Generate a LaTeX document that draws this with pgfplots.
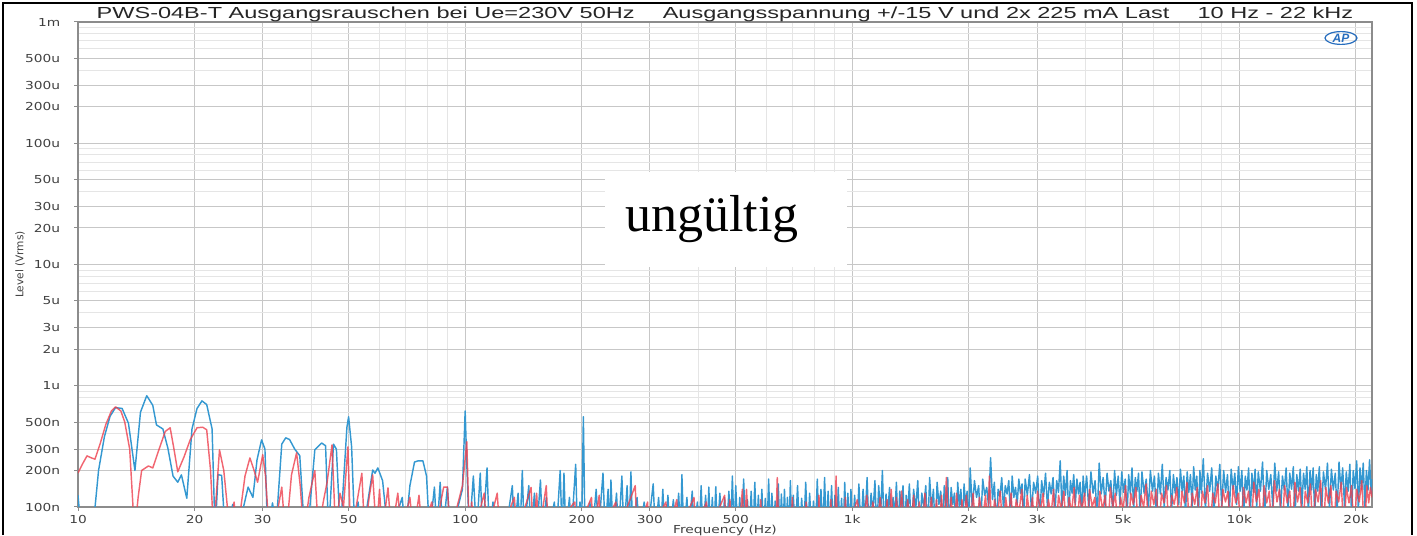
\documentclass[border=0pt]{standalone}
\usepackage{pgfplots}
\pgfplotsset{compat=1.18}
\usepackage{fontspec}
\setmainfont{Liberation Sans}
\newfontfamily\dejavu{DejaVu Sans}
\newfontfamily\serifb{Liberation Serif}
\definecolor{apblue}{RGB}{52,152,209}
\definecolor{apred}{RGB}{238,64,78}
\definecolor{lbl}{RGB}{64,64,64}
\definecolor{logo}{RGB}{40,110,190}
\begin{document}
\begin{tikzpicture}
\begin{axis}[
  at={(0,0)}, anchor=south west,
  scale only axis, width=647pt, height=242.5pt,
  xmode=log, ymode=log,
  xmin=10, xmax=22000, ymin=100, ymax=1000000,
  xtick={10,20,30,50,100,200,300,500,1000,2000,3000,5000,10000,20000},
  xticklabels={10,20,30,50,100,200,300,500,1k,2k,3k,5k,10k,20k},
  minor xtick={40,60,70,80,90,400,600,700,800,900,4000,6000,7000,8000,9000},
  ytick={100,200,300,500,1000,2000,3000,5000,10000,20000,30000,50000,100000,200000,300000,500000,1000000},
  yticklabels={100n,200n,300n,500n,1u,2u,3u,5u,10u,20u,30u,50u,100u,200u,300u,500u,1m},
  minor ytick={400,600,700,800,900,4000,6000,7000,8000,9000,40000,60000,70000,80000,90000,400000,600000,700000,800000,900000},
  grid=both,
  major grid style={draw=black!22, line width=0.5pt},
  minor grid style={draw=black!10, line width=0.5pt},
  axis line style={draw=black!45, line width=0.6pt},
  tick align=outside, major tick length=2pt, minor tick length=0pt,
  tick pos=left,
  tick style={draw=black!45, line width=0.5pt},
  tick label style={font=\dejavu\fontsize{5.5}{6.5}\selectfont, text=lbl},
  xticklabel style={xscale=1.25, yshift=1.5pt},
  yticklabel style={xscale=1.25, xshift=-2pt},
  title={PWS-04B-T Ausgangsrauschen bei Ue=230V 50Hz\hspace{1.2em}Ausgangsspannung +/-15 V und 2x 225 mA Last\hspace{1.2em}10 Hz - 22 kHz},
  title style={font=\fontsize{8}{9}\selectfont, text=black!85, xscale=1.47, at={(axis description cs:0.5,1)}, anchor=base, yshift=-4.5pt},
  xlabel={Frequency (Hz)},
  xlabel style={font=\dejavu\fontsize{5.5}{6.5}\selectfont, text=lbl, xscale=1.25, at={(axis description cs:0.5,0)}, anchor=base, yshift=-13.5pt},
  ylabel={Level (Vrms)},
  ylabel style={font=\dejavu\fontsize{5.3}{6}\selectfont, text=lbl, at={(axis description cs:-0.0448,0.5)}, anchor=center},
  every axis plot/.append style={line width=0.72pt, line join=round},
]
% blue channel (values in nV)
\addplot[apblue] coordinates {
(10,125)(10.2,60)(10.9,60)(11.3,200)(11.7,380)(12.1,560)(12.5,660)(13.0,650)(13.5,490)(14.03,200)(14.5,605)(15.05,828)(15.6,690)(15.95,475)(16.57,440)(17.07,305)(17.6,180)(18.1,160)(18.5,184)(19.1,118)(19.7,440)(20.3,650)(20.9,750)(21.5,700)(22.2,440)(22.6,60)(23.0,185)(23.5,182)(24.0,60)(25.1,105)(25.8,60)(27.5,146)(28.3,120)(29.0,245)(29.8,358)(30.4,300)(30.9,60)(31.8,108)(32.5,70)(33.6,330)(34.4,372)(35.2,360)(36.3,300)(37.4,265)(38.5,60)(39.6,90)(40.9,296)(42.6,337)(43.6,320)(44.4,60)(45.7,330)(46.5,300)(47.6,60)(49.5,455)(50.0,555)(50.9,315)(51.9,60)(52.9,110)(53.8,60)(55.5,90)(57.7,202)(58.5,190)(59.5,210)(61.2,165)(63.2,60)(66,80)(68.8,120)(70,60)(72,150)(74.0,235)(75.5,240)(77.8,240)(79.5,180)(80.9,60)(83.3,146)(84.5,60)(86.2,160)(87.5,60)(90,146)(91.5,60)(95,90)(98.4,140)(100,620)(101.2,184)(102.5,60)(105,180)(107,60)(109.4,190)(111,60)(113.9,210)(115.5,60)(118,110)(120,60)
(125,90)(127,60)(132.4,150)(134,60)(137,130)(138.5,60)(140.5,200)(142,60)(146,150)(148,60)(151,130)(153,60)(156.5,167)(158.5,60)(162,120)(164,60)(170,110)(172,60)(176,200)(178,60)(180,190)(182,60)(186,120)(188,60)(193,225)(195,60)(198,110)(200,70)(202,555)(204,60)(210,110)(213,60)(218,140)(221,60)(227,190)(230,60)(234,140)(236,60)(238,167)(241,60)(246,130)(249,60)(254,180)(257,60)(262,150)(265,60)(268,195)(271,60)(278,120)(282,60)(290,110)(296,60)(306,155)(310,60)(316,120)(320,60)(324,140)(328,60)(334,125)(338,60)(345,115)(350,60)(356,130)(360,60)(363,185)(367,60)(374,120)(378,60)(386,135)(390,60)(398,110)(402,60)(407,150)(411,60)(418,125)(422,60)(426,146)(430,60)(435,120)(439,60)(444,147)(448,60)(455,130)(460,60)(468,120)(473,60)(480,135)(485,60)(490,180)(495,60)
(500,150)(506,60)(512,120)(518,60)(524,170)(530,60)(536,115)(542,60)(548,135)(554,60)(560,160)(566,60)(572,125)(578,60)(584,140)(590,60)(596,118)(602,60)(608,170)(614,60)(620,130)(626,60)(632,112)(638,60)(644,155)(650,60)(656,128)(662,60)(668,140)(674,60)(680,120)(686,60)(692,165)(698,60)
(704,125)(713,60)(722,150)(731,60)(740,118)(749,60)(758,160)(767,60)(776,130)(785,60)(794,112)(803,60)(812,170)(821,60)(830,140)(839,60)(848,175)(857,60)(866,135)(875,60)(884,150)(893,60)(902,125)(911,60)(920,145)(929,60)(938,118)(947,60)(956,160)(965,60)(974,130)(983,60)(992,140)(1001,60)
(1014,125)(1027,60)(1040,155)(1053,60)(1066,140)(1079,80)(1092,175)(1105,60)(1118,130)(1131,90)(1144,165)(1157,60)(1170,150)(1183,85)(1196,200)(1209,60)(1222,128)(1235,90)(1248,145)(1261,60)(1274,120)(1287,85)(1300,160)(1313,60)(1326,135)(1339,95)(1352,150)(1365,60)(1378,125)(1391,90)
(1404,155)(1422,60)(1440,140)(1458,95)(1476,165)(1494,60)(1512,130)(1530,100)(1548,150)(1566,60)(1584,175)(1602,95)(1620,140)(1638,60)(1656,160)(1674,105)(1692,135)(1710,60)(1728,150)(1746,100)(1764,175)(1782,60)(1800,145)(1818,105)(1836,130)(1854,60)(1872,160)(1890,100)(1908,140)(1926,60)(1944,155)(1962,105)(1980,135)(1998,60)
(2016,210)(2042,95)(2068,165)(2094,120)(2120,150)(2146,70)(2172,170)(2198,125)(2224,145)(2250,100)(2276,255)(2302,115)(2328,160)(2354,65)(2380,140)(2406,122)(2432,175)(2458,95)(2484,150)(2510,128)(2536,165)(2562,80)(2588,180)(2614,120)(2640,145)(2666,105)(2692,170)(2718,130)(2744,155)(2770,75)
(2796,170)(2832,125)(2868,185)(2904,90)(2940,160)(2976,130)(3012,180)(3048,80)(3084,165)(3120,122)(3156,190)(3192,100)(3228,160)(3264,128)(3300,175)(3336,85)(3372,165)(3408,132)(3444,240)(3480,95)(3516,180)(3552,125)(3588,200)(3624,80)(3660,165)(3696,130)(3732,185)(3768,105)(3804,170)(3840,128)(3876,160)(3912,85)(3948,180)(3984,122)
(4030,180)(4082,95)(4134,195)(4186,130)(4238,165)(4290,80)(4342,230)(4394,128)(4446,175)(4498,100)(4550,190)(4602,135)(4654,165)(4706,90)(4758,200)(4810,125)(4862,180)(4914,105)(4966,195)(5018,132)(5070,170)(5122,80)(5174,185)(5226,128)(5278,210)(5330,95)(5382,175)(5434,135)(5486,190)(5538,85)
(5600,195)(5672,130)(5744,170)(5816,95)(5888,200)(5960,135)(6032,180)(6104,80)(6176,190)(6248,128)(6320,225)(6392,100)(6464,175)(6536,138)(6608,200)(6680,90)(6752,185)(6824,130)(6896,175)(6968,105)(7040,205)(7112,135)(7184,180)(7256,85)(7328,195)(7400,132)(7472,185)(7544,100)(7616,215)(7688,138)(7760,180)(7832,80)(7904,200)(7976,130)
(8064,250)(8168,95)(8272,190)(8376,135)(8480,210)(8584,85)(8688,180)(8792,138)(8896,225)(9000,100)(9104,200)(9208,132)(9312,185)(9416,90)(9520,205)(9624,140)(9728,190)(9832,105)(9936,215)(10040,135)(10144,200)(10248,80)(10352,180)(10456,138)(10560,210)(10664,85)(10768,190)(10872,132)(10976,205)(11080,100)
(11184,195)(11328,135)(11472,235)(11616,80)(11760,200)(11904,140)(12048,185)(12192,100)(12336,230)(12480,135)(12624,195)(12768,90)(12912,180)(13056,138)(13200,210)(13344,95)(13488,190)(13632,140)(13776,215)(13920,85)(14064,185)(14208,135)(14352,205)(14496,100)(14640,190)(14784,140)(14928,215)(15072,90)(15216,200)(15360,138)(15504,210)(15648,80)(15792,185)(15936,135)
(16080,215)(16280,85)(16480,195)(16680,140)(16880,230)(17080,95)(17280,205)(17480,138)(17680,190)(17880,90)(18080,235)(18280,140)(18480,210)(18680,100)(18880,195)(19080,135)(19280,225)(19480,85)(19680,200)(19880,142)(20080,240)(20280,95)(20480,210)(20680,140)(20880,230)(21080,100)(21280,200)(21480,138)(21680,245)(21880,130)(22000,170)
};
% red channel (values in nV)
\addplot[apred, opacity=0.8] coordinates {
(10,191)(10.3,230)(10.55,264)(10.8,255)(11.06,248)(11.4,330)(11.8,480)(12.2,620)(12.5,670)(12.9,620)(13.2,505)(13.6,300)(14.0,60)(14.3,120)(14.6,200)(15.2,218)(15.6,210)(16.2,300)(16.8,420)(17.3,450)(17.7,300)(18.1,195)(18.8,260)(19.5,360)(20.3,450)(21.0,455)(21.5,433)(22.0,200)(22.4,60)(23.2,296)(23.8,200)(24.7,60)(25.3,110)(25.8,60)(27.0,180)(27.8,254)(28.5,200)(29.1,160)(30.0,270)(30.5,180)(31.2,60)(32.5,80)(33.6,146)(34.3,60)(35.0,100)(35.6,184)(36.7,280)(37.5,150)(38.3,60)(39.5,120)(40.9,200)(41.8,60)(43.0,110)(44.0,160)(45.3,325)(46.3,60)(47.5,130)(48.5,100)(49.8,313)(50.6,60)(52,90)(54.1,190)(55.0,60)(56.5,120)(57.7,184)(59,60)(60.1,140)(61,60)(63.2,144)(64.5,60)(67,130)(68.5,60)(72,120)(73.5,60)(76,125)(77.5,60)(82,110)(83.5,60)(88,146)(90,146)(91.5,60)(98.4,150)(101,345)(102.5,60)(104,110)(105.5,60)(112,130)(114,60)(121,130)(123,60)(134,120)(136,60)(148,145)(150,60)(153,130)(155,60)(162,150)(164,60)(192,110)(194,60)(212,120)(214,60)(222,125)(224,60)(245,110)(247,60)(275,150)(278,60)(296,110)(298,60)(330,110)(334,60)(352,115)(356,60)(390,120)(395,60)(420,110)(425,60)(468,125)(472,60)(483,115)(488,60)
(510,60)(520,140)(526,60)(533,140)(540,60)(574,60)(580,115)(586,60)(634,60)(640,175)(646,60)(694,60)(700,120)(707,60)(753,60)(760,110)(767,60)(813,60)(820,125)(828,60)(872,60)(880,115)(888,60)(900,60)(908,180)(916,60)(952,60)(960,120)(968,60)
(1030,115)(1060,60)(1090,125)(1110,60)(1130,110)(1155,60)(1180,120)(1205,60)(1230,115)(1245,60)(1260,140)(1280,60)(1300,120)(1320,60)(1340,135)(1365,60)(1390,115)(1415,60)(1440,125)(1465,60)(1490,110)(1515,60)(1540,130)(1570,60)(1600,120)(1625,60)(1650,115)(1675,60)(1700,125)(1725,60)(1750,175)(1775,60)(1800,120)(1830,60)(1860,130)(1890,60)(1920,115)(1945,60)(1970,125)(2010,60)
(2050,130)(2090,60)(2130,120)(2170,80)(2210,125)(2235,60)(2260,180)(2295,60)(2330,115)(2370,85)(2410,135)(2450,60)(2490,120)(2530,80)(2570,130)(2610,60)(2650,115)(2695,90)(2740,140)(2785,60)(2830,125)(2875,80)(2920,120)(2965,60)(3010,135)(3060,90)(3110,130)(3160,60)(3210,115)(3260,85)(3310,140)(3360,60)(3410,125)(3465,95)(3520,135)(3575,60)(3630,120)(3685,90)(3740,145)(3800,60)(3860,125)(3920,95)(3980,130)(4040,60)(4100,140)(4165,100)(4230,120)(4295,60)(4360,135)(4430,95)(4500,125)(4570,60)(4640,145)(4710,100)(4780,130)(4855,60)(4930,120)(5005,95)
(5080,150)(5160,60)(5240,130)(5320,105)(5400,145)(5485,60)(5570,125)(5655,100)(5740,155)(5830,60)(5920,135)(6010,105)(6100,140)(6195,60)(6290,130)(6385,108)(6480,150)(6580,60)(6680,125)(6785,105)(6890,145)(6995,60)(7100,135)(7210,108)(7320,160)(7435,60)(7550,130)(7665,105)(7780,145)(7900,60)(8020,135)(8145,108)(8270,150)(8400,65)(8530,130)(8660,108)(8790,155)(8925,60)(9060,140)(9200,110)(9340,135)(9485,60)(9630,150)(9780,108)(9930,130)(10085,60)
(10240,145)(10400,108)(10560,135)(10725,60)(10890,160)(11060,110)(11230,140)(11405,60)(11580,150)(11760,108)(11940,135)(12125,60)(12310,165)(12500,110)(12690,140)(12885,60)(13080,150)(13285,108)(13490,135)(13700,60)(13910,160)(14125,110)(14340,145)(14565,60)(14790,135)(15020,108)(15250,155)(15485,60)(15720,140)(15965,110)(16210,165)(16460,60)(16710,145)(16970,108)(17230,150)(17500,60)(17770,135)(18045,110)(18320,160)(18605,60)(18890,145)(19185,108)(19480,150)(19780,60)(20080,140)(20390,110)(20700,165)(21020,60)(21340,150)(21570,108)(21800,145)(22000,120)
};
\end{axis}
% "ungueltig" overlay
\fill[white] (263.5pt,120pt) rectangle (384.5pt,167.5pt);
\node[anchor=base, inner sep=0pt, font=\serifb\fontsize{26}{30}\selectfont] at (317pt,137.5pt) {ungültig};
% AP logo
\draw[logo, line width=0.6pt] (631.5pt,234.5pt) ellipse (8pt and 3.2pt);
\node[font=\bfseries\itshape\fontsize{6}{6}\selectfont, text=logo, inner sep=0pt] at (631.5pt,234.5pt) {AP};
% outer frame
\draw[black, line width=1pt] (-37.5pt,-14pt) -- (-37.5pt,252pt) -- (667pt,252pt) -- (667pt,-14pt);
\pgfresetboundingbox
\path[use as bounding box] (-39pt,-14pt) rectangle (669.5pt,253.5pt);
\end{tikzpicture}
\end{document}
